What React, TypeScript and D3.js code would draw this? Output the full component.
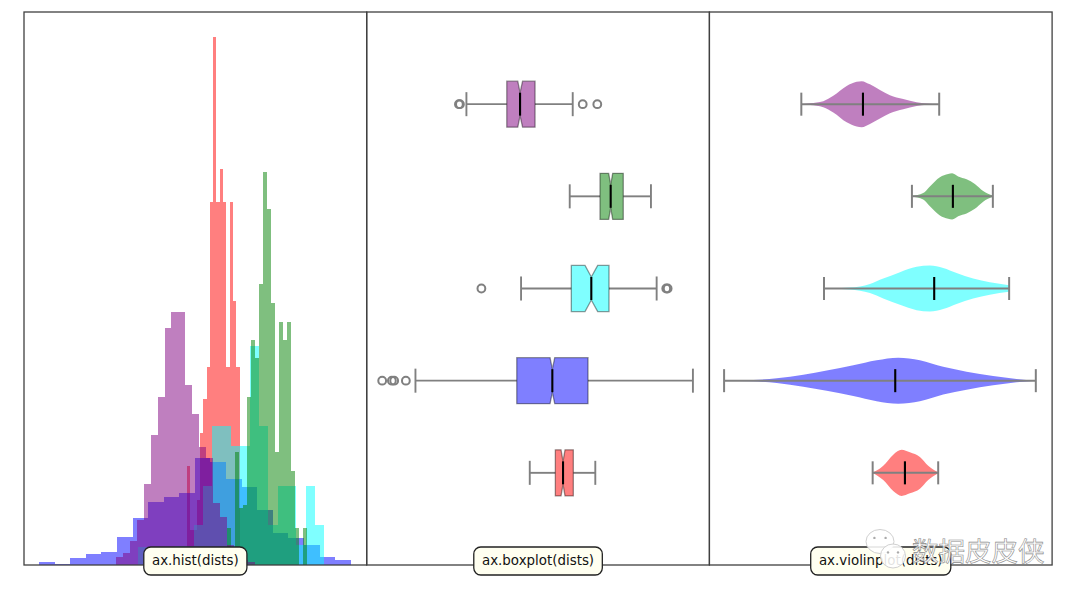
import { useRef, useEffect } from "react";
import * as d3 from "d3";

// no axes in the picture, so values use an arbitrary shared unit
const histColors = ["#ff0000", "#0000ff", "#00ffff", "#008000", "#800080"];

const redCounts = [4, 0, 4, 4, 99, 35, 35, 65, 132, 166, 198, 363, 528, 363, 396, 363, 198, 363, 264, 198];
const blueCounts = [3, 0.7, 7, 11, 13, 28, 47, 63, 68, 72, 107, 103, 86, 78, 55, 32, 27, 20, 8, 5];
const cyanCounts = [18, 6, 6, 10, 19, 19, 40, 79, 139, 139, 119, 119, 219, 139, 40, 79, 79, 20, 79, 40];
const greenCounts = [37, 5, 113, 57, 60, 168, 225, 207, 281, 393, 356, 262, 113, 243, 225, 243, 94, 37, 0, 37];
const purpleCounts = [8, 12, 24, 45, 81, 130, 168, 237, 253, 253, 180, 151, 118, 107, 62, 48, 20, 10, 5, 3];
const histCounts = [redCounts, blueCounts, cyanCounts, greenCounts, purpleCounts];
const histStarts = [149.5, 15, 114, 203.3, 92];
const histWidths = [3.32, 15.6, 9.32, 4, 6.95];

// position 1 is the lowest row
const positions = [1, 2, 3, 4, 5];
const boxQ1 = [188.3, 149.7, 204.3, 233, 139.7];
const boxQ3 = [206.3, 221, 242, 256.3, 168];
const boxMedian = [196, 185.3, 224.3, 243.7, 153];
const boxNotchLo = [194, 183, 218, 241.7, 150.7];
const boxNotchHi = [198, 187.7, 230.7, 245.7, 155.5];
const boxWhiskerLo = [162.7, 48.3, 154, 202.7, 99.3];
const boxWhiskerHi = [228.3, 326, 289.7, 284, 205.7];
const boxFliers = [[], [15, 24.7, 27, 38.7], [114.3, 299.3, 300.7], [], [91.8, 92.8, 215.7, 230.3]];

const violinValues = [
  [163.4, 167.4, 174, 184, 192.4, 200.7, 210.7, 219, 229],
  [14.7, 44, 67.4, 94, 117.4, 144, 167.4, 189, 210.7, 234, 257.4, 284, 307.4, 326.7],
  [114.7, 140.7, 160.7, 174, 190.7, 207.4, 220.7, 234, 247.4, 264, 280.7, 300],
  [202.7, 214, 220.7, 230.7, 239, 243, 249, 257.4, 265.7, 274, 283.7],
  [92, 100.7, 114, 124, 137.4, 147.4, 152.4, 160.7, 170.7, 180.7, 194, 207.4, 217.4, 230],
];
const violinDensity = [
  [0.02, 0.1, 0.31, 0.79, 1, 0.89, 0.69, 0.31, 0.02],
  [0, 0.03, 0.1, 0.26, 0.44, 0.67, 0.89, 1, 0.89, 0.6, 0.39, 0.2, 0.07, 0],
  [0, 0.04, 0.2, 0.43, 0.71, 0.94, 1, 0.89, 0.67, 0.43, 0.27, 0.14],
  [0.02, 0.14, 0.43, 0.83, 0.97, 1, 0.86, 0.74, 0.54, 0.23, 0.02],
  [0, 0.04, 0.13, 0.36, 0.79, 0.97, 1, 0.86, 0.62, 0.39, 0.22, 0.08, 0.03, 0],
];
const violinMeans = [195.7, 186, 225, 243.7, 153.7];

const panelLabels = ["ax.hist(dists)", "ax.boxplot(dists)", "ax.violinplot(dists)"];

export default function App() {
  const svgRef = useRef<SVGSVGElement>(null);

  useEffect(() => {
    if (!svgRef.current) return;
    const svg = d3.select(svgRef.current);
    svg.selectAll("*").remove();

    const left = 24;
    const top = 12;
    const bottom = 565;
    const panelW = 342.7;
    const panelX = (i: number) => left + i * panelW;

    const xScale = (i: number, nudge = 0) =>
      d3.scaleLinear().domain([0, 343]).range([panelX(i) + nudge, panelX(i) + panelW + nudge]);
    const rowScale = d3.scaleLinear().domain([0, 6]).range([bottom, top]);
    const countScale = d3.scaleLinear().domain([0, 553]).range([bottom, top]);

    // hist
    const x0 = xScale(0);
    histCounts.forEach((counts, s) => {
      svg.append("g")
        .selectAll("rect")
        .data(counts)
        .join("rect")
        .attr("x", (_d, i) => x0(histStarts[s] + i * histWidths[s]))
        .attr("width", x0(histWidths[s]) - x0(0))
        .attr("y", (d) => countScale(d))
        .attr("height", (d) => bottom - countScale(d))
        .attr("fill", histColors[s])
        .attr("fill-opacity", 0.5)
        .attr("shape-rendering", "crispEdges");
    });

    // boxplot
    const x1 = xScale(1, 0.5);
    const halfBox = rowScale(0) - rowScale(0.25);
    positions.forEach((pos, i) => {
      const g = svg.append("g");
      const yc = rowScale(pos);
      [[boxWhiskerLo[i], boxQ1[i]], [boxQ3[i], boxWhiskerHi[i]]].forEach(([a, b]) => {
        g.append("line").attr("x1", x1(a)).attr("x2", x1(b)).attr("y1", yc).attr("y2", yc)
          .attr("stroke", "#808080").attr("stroke-width", 1.9);
      });
      [boxWhiskerLo[i], boxWhiskerHi[i]].forEach((v) => {
        g.append("line").attr("x1", x1(v)).attr("x2", x1(v))
          .attr("y1", yc - halfBox / 2 - 0.5).attr("y2", yc + halfBox / 2 + 0.5)
          .attr("stroke", "#808080").attr("stroke-width", 1.9);
      });
      const path = d3.path();
      path.moveTo(x1(boxQ1[i]), yc - halfBox);
      path.lineTo(x1(boxNotchLo[i]), yc - halfBox);
      path.lineTo(x1(boxMedian[i]), yc - halfBox / 2);
      path.lineTo(x1(boxNotchHi[i]), yc - halfBox);
      path.lineTo(x1(boxQ3[i]), yc - halfBox);
      path.lineTo(x1(boxQ3[i]), yc + halfBox);
      path.lineTo(x1(boxNotchHi[i]), yc + halfBox);
      path.lineTo(x1(boxMedian[i]), yc + halfBox / 2);
      path.lineTo(x1(boxNotchLo[i]), yc + halfBox);
      path.lineTo(x1(boxQ1[i]), yc + halfBox);
      path.closePath();
      g.append("path").attr("d", path.toString())
        .attr("fill", histColors[i]).attr("fill-opacity", 0.5)
        .attr("stroke", "#000").attr("stroke-opacity", 0.4).attr("stroke-width", 1.3);
      g.append("line").attr("x1", x1(boxMedian[i])).attr("x2", x1(boxMedian[i]))
        .attr("y1", yc - halfBox / 2).attr("y2", yc + halfBox / 2)
        .attr("stroke", "#000").attr("stroke-width", 2.1);
      g.selectAll("circle").data(boxFliers[i]).join("circle")
        .attr("cx", (d) => x1(d)).attr("cy", yc).attr("r", 3.9)
        .attr("fill", "none").attr("stroke", "#808080").attr("stroke-width", 2);
    });

    // violins
    const x2 = xScale(2);
    positions.forEach((pos, i) => {
      const g = svg.append("g");
      const yc = rowScale(pos);
      const pts = violinValues[i].map((v, k) => [v, violinDensity[i][k]]);
      const area = d3.area<number[]>()
        .x((d) => x2(d[0]))
        .y0((d) => yc - d[1] * halfBox)
        .y1((d) => yc + d[1] * halfBox)
        .curve(d3.curveMonotoneX);
      g.append("path").attr("d", area(pts)).attr("fill", histColors[i]).attr("fill-opacity", 0.5);
      const lo = violinValues[i][0];
      const hi = violinValues[i][violinValues[i].length - 1];
      g.append("line").attr("x1", x2(lo)).attr("x2", x2(hi)).attr("y1", yc).attr("y2", yc)
        .attr("stroke", "#808080").attr("stroke-width", 2);
      [lo, hi].forEach((v) => {
        g.append("line").attr("x1", x2(v)).attr("x2", x2(v))
          .attr("y1", yc - halfBox / 2).attr("y2", yc + halfBox / 2)
          .attr("stroke", "#808080").attr("stroke-width", 2);
      });
      g.append("line").attr("x1", x2(violinMeans[i])).attr("x2", x2(violinMeans[i]))
        .attr("y1", yc - halfBox / 2).attr("y2", yc + halfBox / 2)
        .attr("stroke", "#000").attr("stroke-width", 2.1);
    });

    // frames
    [0, 1, 2].forEach((i) => {
      svg.append("rect")
        .attr("x", panelX(i)).attr("y", top)
        .attr("width", panelW).attr("height", bottom - top)
        .attr("fill", "none").attr("stroke", "#404040").attr("stroke-width", 1.3);
    });

    // labels
    panelLabels.forEach((label, i) => {
      const cx = panelX(i) + panelW / 2;
      const g = svg.append("g");
      const box = g.append("rect");
      const text = g.append("text")
        .attr("x", cx).attr("y", bottom - 0.2)
        .attr("text-anchor", "middle")
        .attr("font-family", "DejaVu Sans")
        .attr("font-size", 13.4)
        .attr("fill", "#111")
        .text(label);
      const w = (text.node() as SVGTextElement).getComputedTextLength();
      box.attr("x", cx - w / 2 - 8.2).attr("y", 547).attr("width", w + 16.4).attr("height", 28)
        .attr("rx", 7).attr("fill", "#fffff0").attr("stroke", "#222").attr("stroke-width", 1.3);
    });

    // watermark
    const wm = svg.append("g");
    const bubble = (cx: number, cy: number, rx: number, ry: number) => {
      wm.append("ellipse").attr("cx", cx).attr("cy", cy).attr("rx", rx).attr("ry", ry)
        .attr("fill", "#fff").attr("fill-opacity", 0.88).attr("stroke", "#d0d0d0").attr("stroke-width", 1);
      [-0.4, 0.4].forEach((d) => {
        wm.append("circle").attr("cx", cx + d * rx).attr("cy", cy - 0.3 * ry).attr("r", 1.2).attr("fill", "#aaa");
      });
    };
    bubble(880, 541.5, 14, 12);
    bubble(893, 556, 12.5, 12);
    wm.append("text")
      .attr("x", 912).attr("y", 561)
      .attr("font-family", "Noto Sans CJK SC")
      .attr("font-size", 26.5)
      .attr("fill", "#fff").attr("fill-opacity", 0.9)
      .attr("stroke", "#8a8a8a").attr("stroke-width", 0.6)
      .text("数据皮皮侠");
  }, []);

  return <svg ref={svgRef} width={1080} height={599} style={{ position: "absolute", left: 0, top: 0, background: "#fff" }} />;
}
